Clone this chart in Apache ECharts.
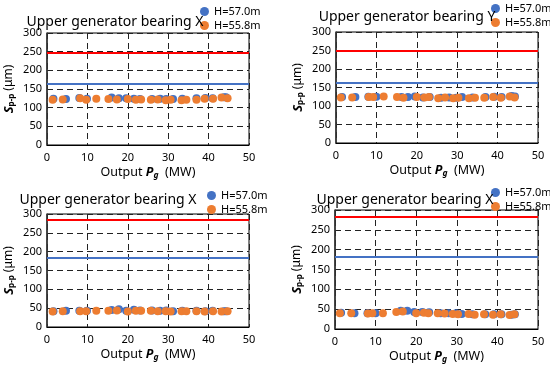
<!DOCTYPE html>
<html><head><meta charset="utf-8">
<script src="https://cdn.jsdelivr.net/npm/echarts@6/dist/echarts.min.js"></script>
<style>html,body{margin:0;padding:0;background:#fff}#c{width:550px;height:366px}</style>
</head><body><div id="c"></div>
<script>
// ---- data ----
const titles = ["Upper generator bearing X", "Upper generator bearing Y", "Upper generator bearing X", "Upper generator bearing X"];
const seriesNames = ["H=57.0m", "H=55.8m"];
const xTicks = [0, 10, 20, 30, 40, 50];
const yTicks = [0, 50, 100, 150, 200, 250, 300];

const p1BlueX = [1.6, 4.7, 8.0, 9.9, 16.0, 17.8, 19.6, 21.5, 23.0, 26.0, 28.0, 29.5, 31.2, 33.5, 37.0, 39.2, 41.0, 43.8, 44.3];
const p1BlueY = [124, 123, 126, 124, 127, 125, 125, 124, 123, 123, 124, 123, 123, 124, 125, 126, 125, 128, 128];
const p1OrangeX = [1.4, 3.9, 8.2, 9.7, 12.2, 15.2, 17.3, 20.0, 22.0, 23.3, 25.7, 27.4, 29.4, 30.6, 33.3, 34.5, 37.0, 39.0, 41.1, 43.2, 44.7];
const p1OrangeY = [121, 122, 125, 121, 124, 123, 122, 123, 121, 122, 121, 122, 120, 121, 120, 121, 121, 124, 124, 127, 125];
const p1RedLine = 248, p1BlueLine = 165;

const p2BlueX = [1.5, 4.8, 8.0, 10.0, 16.2, 17.8, 19.5, 21.5, 23.2, 26.0, 28.0, 29.8, 31.2, 33.8, 37.0, 39.2, 41.0, 43.5, 44.3];
const p2BlueY = [124, 124, 125, 125, 124, 124, 126, 123, 124, 122, 123, 122, 124, 123, 124, 125, 124, 127, 126];
const p2OrangeX = [1.2, 4.0, 8.1, 9.2, 11.8, 15.1, 16.7, 20.0, 21.9, 23.0, 25.3, 27.0, 29.0, 30.3, 32.9, 34.4, 36.7, 38.9, 40.8, 43.0, 44.2];
const p2OrangeY = [123, 123, 124, 124, 126, 124, 122, 124, 123, 124, 121, 123, 121, 122, 121, 122, 122, 124, 122, 126, 123];
const p2RedLine = 250, p2BlueLine = 162;

const p3BlueX = [1.6, 4.7, 8.0, 9.9, 16.0, 17.8, 19.6, 21.5, 23.0, 26.0, 28.0, 29.5, 31.2, 33.5, 37.0, 39.2, 41.0, 43.8, 44.3];
const p3BlueY = [42, 43, 43, 43, 45, 47, 43, 46, 44, 44, 43, 44, 42, 43, 43, 42, 43, 42, 42];
const p3OrangeX = [1.4, 3.9, 8.2, 9.7, 12.2, 15.2, 17.3, 20.0, 22.0, 23.3, 25.7, 27.4, 29.4, 30.6, 33.3, 34.5, 37.0, 39.0, 41.1, 43.2, 44.7];
const p3OrangeY = [41, 42, 42, 42, 43, 43, 44, 41, 43, 43, 43, 42, 42, 41, 42, 42, 42, 41, 42, 41, 42];
const p3RedLine = 284, p3BlueLine = 183;

const p4BlueX = [1.5, 4.8, 8.0, 10.0, 16.2, 17.8, 19.5, 21.5, 23.2, 26.0, 28.0, 29.8, 31.2, 33.8, 37.0, 39.2, 41.0, 43.5, 44.3];
const p4BlueY = [41, 40, 40, 40, 46, 46, 43, 43, 42, 40, 40, 40, 38, 37, 37, 37, 37, 36, 37];
const p4OrangeX = [1.2, 4.0, 8.1, 9.2, 11.8, 15.1, 16.7, 20.0, 21.9, 23.0, 25.3, 27.0, 29.0, 30.3, 32.9, 34.4, 36.7, 38.9, 40.8, 43.0, 44.2];
const p4OrangeY = [40, 40, 39, 40, 40, 43, 44, 40, 41, 40, 40, 39, 38, 37, 38, 36, 37, 36, 37, 35, 37];
const p4RedLine = 282, p4BlueLine = 183;

// ---- layout ----
const FONT = "Noto Sans";
const BLUE = "#4472C4", ORANGE = "#ED7D31", RED = "#FF0000";
const panels = [
  {bx:p1BlueX, by:p1BlueY, ox:p1OrangeX, oy:p1OrangeY, red:p1RedLine, blue:p1BlueLine,
   grid:{left:47, top:33, width:202, height:112}, title:{x:115, y:15}, legend:{left:200, top:6}},
  {bx:p2BlueX, by:p2BlueY, ox:p2OrangeX, oy:p2OrangeY, red:p2RedLine, blue:p2BlueLine,
   grid:{left:336, top:32, width:202, height:111}, title:{x:407, y:10}, legend:{left:491, top:3}},
  {bx:p3BlueX, by:p3BlueY, ox:p3OrangeX, oy:p3OrangeY, red:p3RedLine, blue:p3BlueLine,
   grid:{left:47, top:214, width:202, height:113}, title:{x:108, y:193}, legend:{left:207, top:190}},
  {bx:p4BlueX, by:p4BlueY, ox:p4OrangeX, oy:p4OrangeY, red:p4RedLine, blue:p4BlueLine,
   grid:{left:335, top:210, width:203, height:119}, title:{x:405, y:193}, legend:{left:491, top:187}}
];

const zip = (xs, ys) => xs.map((x, i) => [x, ys[i]]);

const option = {
  animation: false,
  backgroundColor: "#fff",
  textStyle: {fontFamily: FONT},
  title: panels.map((p, i) => ({
    text: titles[i], left: p.title.x, top: p.title.y, textAlign: "center", padding: 0,
    textStyle: {fontFamily: FONT, fontSize: 14, fontWeight: "normal", color: "#000"}
  })),
  legend: panels.map(p => ({
    data: seriesNames, left: p.legend.left, top: p.legend.top, orient: "vertical", padding: 0,
    itemWidth: 9, itemHeight: 9, itemGap: 3, icon: "circle", selectedMode: false,
    textStyle: {fontFamily: FONT, fontSize: 11, color: "#000"}
  })),
  grid: panels.map(p => Object.assign({show: true, borderColor: "#000", borderWidth: 1, containLabel: false}, p.grid)),
  xAxis: panels.map((p, i) => ({
    type: "value", gridIndex: i, min: xTicks[0], max: xTicks[xTicks.length - 1], interval: 10,
    name: "{n|Output }{b|P}{s|g}{n|  (MW)}", nameLocation: "middle", nameGap: 20,
    nameTextStyle: {rich: {
      n: {fontFamily: FONT, fontSize: 12.5, color: "#000"},
      b: {fontFamily: FONT, fontSize: 12.5, fontWeight: "bold", fontStyle: "italic", color: "#000"},
      s: {fontFamily: FONT, fontSize: 8.5, fontWeight: "bold", fontStyle: "italic", color: "#000", padding: [6, 0, 0, 0]}
    }},
    axisLine: {show: true, lineStyle: {color: "#000", width: 1}},
    axisTick: {show: false},
    axisLabel: {fontFamily: FONT, fontSize: 11, color: "#000", margin: 7},
    splitLine: {show: true, lineStyle: {color: "#222", width: 1, type: [6, 4]}}
  })),
  yAxis: panels.map((p, i) => ({
    type: "value", gridIndex: i, min: yTicks[0], max: yTicks[yTicks.length - 1], interval: 50,
    name: "{b|S}{s|p-p}{n| (μm)}", nameLocation: "middle", nameGap: 31, nameRotate: 90,
    nameTextStyle: {rich: {
      n: {fontFamily: FONT, fontSize: 12, color: "#000"},
      b: {fontFamily: FONT, fontSize: 13, fontWeight: "bold", fontStyle: "italic", color: "#000"},
      s: {fontFamily: FONT, fontSize: 8, fontWeight: "bold", color: "#000", padding: [6, 0, 0, 0]}
    }},
    axisLine: {show: true, lineStyle: {color: "#333", width: 1.5}},
    axisTick: {show: false},
    axisLabel: {fontFamily: FONT, fontSize: 11, color: "#000", margin: 5},
    splitLine: {show: true, lineStyle: {color: "#222", width: 1, type: [6, 4]}}
  })),
  series: panels.flatMap((p, i) => [
    {
      name: seriesNames[0], type: "scatter", xAxisIndex: i, yAxisIndex: i,
      symbolSize: 8, itemStyle: {color: BLUE, opacity: 1}, data: zip(p.bx, p.by), z: 3,
      markLine: {
        silent: true, symbol: "none", label: {show: false},
        data: [
          {yAxis: p.red, lineStyle: {color: RED, width: 2, type: "solid"}},
          {yAxis: p.blue, lineStyle: {color: BLUE, width: 2, type: "solid"}}
        ]
      }
    },
    {
      name: seriesNames[1], type: "scatter", xAxisIndex: i, yAxisIndex: i,
      symbolSize: 8, itemStyle: {color: ORANGE, opacity: 1}, data: zip(p.ox, p.oy), z: 4
    }
  ])
};

const chart = echarts.init(document.getElementById("c"), null, {renderer: "canvas"});
chart.setOption(option);
</script>
</body></html>
